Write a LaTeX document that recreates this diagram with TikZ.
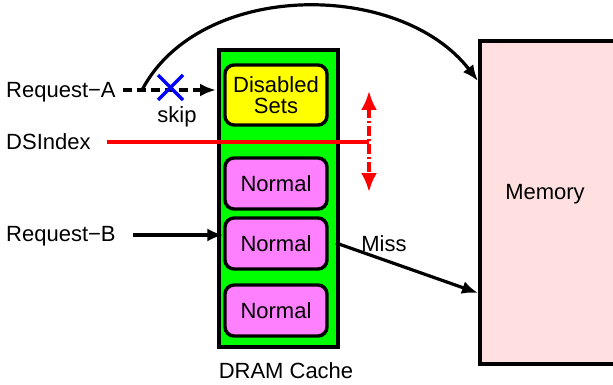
\documentclass[tikz,border=0pt]{standalone}
\usepackage{fontspec}
\setmainfont{Liberation Sans}
\usetikzlibrary{arrows.meta}
\definecolor{cachegreen}{HTML}{00FF00}
\definecolor{setyellow}{HTML}{FFFF00}
\definecolor{setviolet}{HTML}{FF80FF}
\definecolor{mempink}{HTML}{FFDFDF}
\definecolor{xblue}{HTML}{0000FF}
\definecolor{idxred}{HTML}{FF0000}
\tikzset{
  txt/.style={font=\fontsize{22}{24}\selectfont, inner sep=0pt},
  setbox/.style={draw=black, line width=3.4pt, rounded corners=9pt, minimum width=102pt, minimum height=51pt, inner sep=0pt, align=center, font=\fontsize{22}{24}\selectfont},
  conn/.style={line width=3.2pt, -{Latex[length=16pt,width=13pt]}},
  redtip/.tip={Latex[length=19pt,width=16pt]},
}
\begin{document}
\begin{tikzpicture}[x=1pt,y=-1pt]
\useasboundingbox (0,0) rectangle (613,385);
% memory
\node[draw=black, line width=3.6pt, fill=mempink, minimum width=150pt, minimum height=323pt, anchor=north west, inner sep=0pt] (memory) at (478,39) {};
\node[txt] (memlabel) at (545,194) {Memory};
% cache
\node[draw=black, line width=3.6pt, fill=cachegreen, minimum width=119pt, minimum height=297pt, anchor=north west, inner sep=0pt] (cache) at (217,48) {};
\node[setbox, fill=setyellow, minimum height=60pt] (disabled) at (276,95) {Disabled\\[-3pt]Sets};
\node[setbox, fill=setviolet] (n1) at (276,183.5) {Normal};
\node[setbox, fill=setviolet] (n2) at (276,243.5) {Normal};
\node[setbox, fill=setviolet] (n3) at (276,310.5) {Normal};
\node[txt] (dram) at (286,371) {DRAM Cache};
% labels
\node[txt, anchor=west] (reqA) at (6,92) {Request−A};
\node[txt, anchor=west] (dsidx) at (6,142) {DSIndex};
\node[txt, anchor=west] (reqB) at (6,236) {Request−B};
\node[txt] (skip) at (177,117) {skip};
\node[txt] (miss) at (384,244) {Miss};
% request A dashed
\coordinate (aStart) at (123,90);
\coordinate (aEnd) at (216,90);
\draw[conn, dash pattern=on 9pt off 5pt] (aStart) -- (aEnd);
% curve
\coordinate (cStart) at (142,90);
\coordinate (cEnd) at (478,81);
\draw[conn] (cStart) .. controls (200,-20) and (400,-20) .. (cEnd);
% blue X
\coordinate (x1) at (158,75);
\coordinate (x2) at (183,100);
\coordinate (x3) at (158,100);
\coordinate (x4) at (183,75);
\draw[xblue, line width=3.4pt] (x1) -- (x2) (x3) -- (x4);
% DSIndex red
\coordinate (rStart) at (107,142);
\coordinate (rJoin) at (369,142);
\coordinate (rTop) at (369,91);
\coordinate (rBot) at (369,192);
\draw[idxred, line width=3.4pt] (rStart) -- (rJoin);
\draw[idxred, line width=3.4pt, dash pattern=on 10pt off 3pt on 2pt off 3pt, redtip-redtip] (rTop) -- (rBot);
% request B
\coordinate (bStart) at (133,235);
\draw[conn] (bStart) -- (bStart -| n2.west);
% miss
\coordinate (mStart) at (336,243);
\coordinate (mEnd) at (478,293);
\draw[conn] (mStart) -- (mEnd);
\end{tikzpicture}
\end{document}
